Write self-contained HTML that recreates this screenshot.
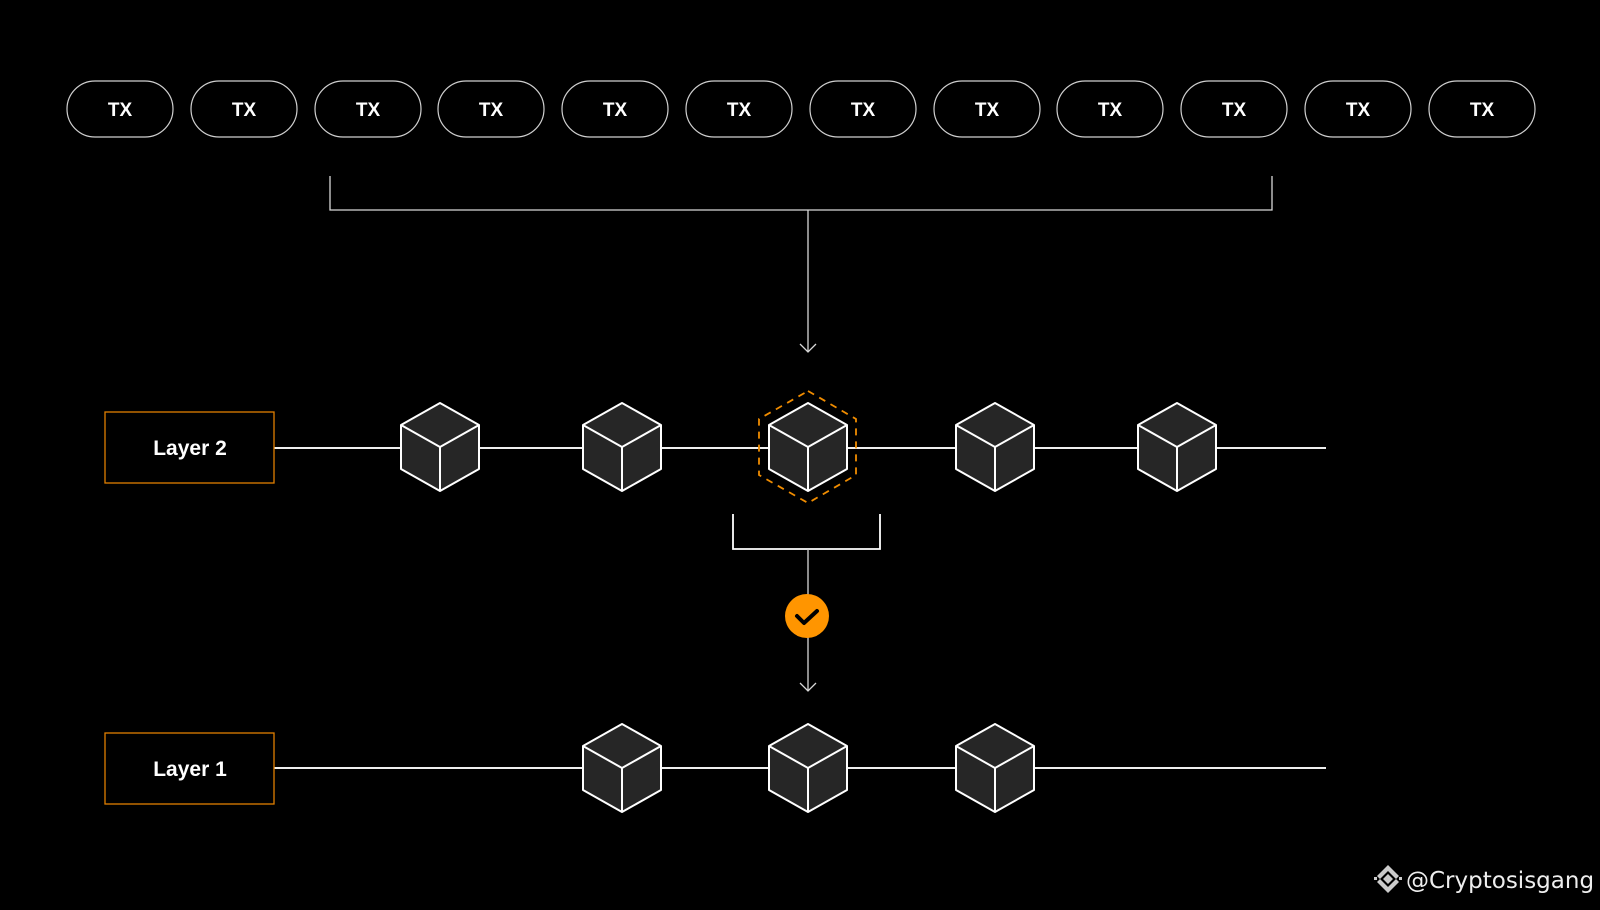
<!DOCTYPE html>
<html><head><meta charset="utf-8"><style>
html,body{margin:0;padding:0;background:#000;width:1600px;height:910px;overflow:hidden}
svg{display:block}
</style></head><body>
<svg width="1600" height="910" viewBox="0 0 1600 910" xmlns="http://www.w3.org/2000/svg">
<defs>
<g id="cube">
<polygon points="0,-44 39,-22 39,22 0,44 -39,22 -39,-22" fill="#262626" stroke="#fff" stroke-width="2" stroke-linejoin="round"/>
<polyline points="-39,-22 0,0 39,-22" fill="none" stroke="#fff" stroke-width="2" stroke-linejoin="round"/>
<line x1="0" y1="0" x2="0" y2="44" stroke="#fff" stroke-width="2"/>
</g>
</defs>
<g font-family="Liberation Sans, sans-serif" font-weight="bold" font-size="19" fill="#fff" text-anchor="middle">
<g stroke="#cfcfcf" stroke-width="1.2" fill="none">
<rect x="67" y="81" width="106" height="56" rx="28"/>
<rect x="191" y="81" width="106" height="56" rx="28"/>
<rect x="315" y="81" width="106" height="56" rx="28"/>
<rect x="438" y="81" width="106" height="56" rx="28"/>
<rect x="562" y="81" width="106" height="56" rx="28"/>
<rect x="686" y="81" width="106" height="56" rx="28"/>
<rect x="810" y="81" width="106" height="56" rx="28"/>
<rect x="934" y="81" width="106" height="56" rx="28"/>
<rect x="1057" y="81" width="106" height="56" rx="28"/>
<rect x="1181" y="81" width="106" height="56" rx="28"/>
<rect x="1305" y="81" width="106" height="56" rx="28"/>
<rect x="1429" y="81" width="106" height="56" rx="28"/>
</g>
<text x="120" y="116">TX</text><text x="244" y="116">TX</text><text x="368" y="116">TX</text>
<text x="491" y="116">TX</text><text x="615" y="116">TX</text><text x="739" y="116">TX</text>
<text x="863" y="116">TX</text><text x="987" y="116">TX</text><text x="1110" y="116">TX</text>
<text x="1234" y="116">TX</text><text x="1358" y="116">TX</text><text x="1482" y="116">TX</text>
</g>
<g stroke="#d8d8d8" stroke-width="1.3" fill="none">
<polyline points="330,176 330,210 1272,210 1272,176"/>
<line x1="808" y1="210" x2="808" y2="352"/>
<polyline points="800,344 808,352 816,344"/>
<polyline points="733,514 733,549 880,549 880,514" stroke="#fff" stroke-width="1.8"/>
<line x1="808" y1="549" x2="808" y2="691"/>
<polyline points="800,683 808,691 816,683"/>
</g>
<line x1="274" y1="448" x2="1326" y2="448" stroke="#eee" stroke-width="2"/>
<line x1="274" y1="768" x2="1326" y2="768" stroke="#eee" stroke-width="2"/>
<rect x="105" y="412" width="169" height="71" fill="#000" stroke="#e07f00" stroke-width="1.3"/>
<rect x="105" y="733" width="169" height="71" fill="#000" stroke="#e07f00" stroke-width="1.3"/>
<g font-family="Liberation Sans, sans-serif" font-weight="bold" font-size="21" fill="#fff" text-anchor="middle">
<text x="190" y="455">Layer 2</text>
<text x="190" y="776">Layer 1</text>
</g>
<polygon points="808,391 856,419 856,475 808,503 759,475 759,419" fill="none" stroke="#f08c00" stroke-width="1.8" stroke-dasharray="7,6"/>
<use href="#cube" x="440" y="447"/>
<use href="#cube" x="622" y="447"/>
<use href="#cube" x="808" y="447"/>
<use href="#cube" x="995" y="447"/>
<use href="#cube" x="1177" y="447"/>
<use href="#cube" x="622" y="768"/>
<use href="#cube" x="808" y="768"/>
<use href="#cube" x="995" y="768"/>
<circle cx="807" cy="616" r="22" fill="#ff9500"/>
<polyline points="797,616 804,623 817,611" fill="none" stroke="#000" stroke-width="4" stroke-linecap="round" stroke-linejoin="round"/>
<g fill="#ccc">
<polygon points="1388,874 1393,879 1388,884 1383,879"/>
<polygon points="1388,871 1380,879 1377,876 1388,865 1399,876 1396,879"/>
<polygon points="1388,887 1380,879 1377,882 1388,893 1399,882 1396,879"/>
<rect x="1374" y="877" width="3" height="3"/><rect x="1399" y="877" width="3" height="3"/>
</g>
<text x="1406" y="888" font-family="DejaVu Sans, sans-serif" font-size="23" fill="#eee">@Cryptosisgang</text>
</svg>
</body></html>
